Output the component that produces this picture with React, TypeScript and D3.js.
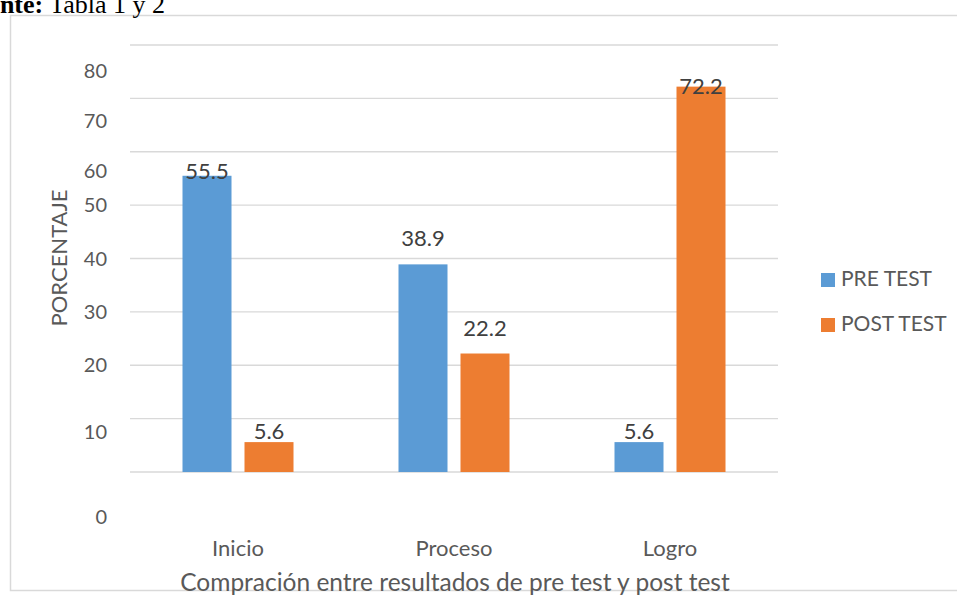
import React from "react";
import * as d3 from "d3";

const categories = ["Inicio", "Proceso", "Logro"];
const series = ["PRE TEST", "POST TEST"];
const preValues = [55.5, 38.9, 5.6];
const postValues = [5.6, 22.2, 72.2];
const gridValues = [0, 10, 20, 30, 40, 50, 60, 70, 80];
// tick labels as they appear (shifted in the reference image)
const tickLabels = ["0", "10", "20", "30", "40", "50", "60", "70", "80"];
const tickLabelPos = [-8.4, 7.5, 20, 30, 40, 50, 56.3, 65.8, 75.2];
const colors = ["#5B9BD5", "#ED7D31"];
// label baseline offsets relative to bar top (px), as placed in the reference
const preLabelOffset = [3, -18, -3];
const postLabelOffset = [-3, -18, 7];

const W = 957, H = 600;
const FONT = "Lato, 'Open Sans', sans-serif";

export default function App() {
  const x0 = d3.scaleBand().domain(categories).range([130, 778]);
  const y = d3.scaleLinear().domain([0, 80]).range([472, 45]);
  const bw = 49, gap = 13;
  const vals = [preValues, postValues];
  const offs = [preLabelOffset, postLabelOffset];
  return (
    <svg width={W} height={H} style={{ position: "absolute", left: 0, top: 0, background: "#fff" }}>
      <rect x={10.5} y={15.5} width={960} height={575} fill="none" stroke="#d9d9d9" strokeWidth={1.5} />
      <text x={-42} y={13} fontFamily="'Liberation Serif', serif" fontSize={26} fill="#000">
        <tspan fontWeight="bold">Fuente:</tspan> Tabla 1 y 2
      </text>
      {gridValues.map((v) => (
        <line key={v} x1={130} x2={778} y1={y(v)} y2={y(v)} stroke="#d9d9d9" strokeWidth={1.3} />
      ))}
      {tickLabels.map((t, i) => (
        <text key={t} x={107} y={y(tickLabelPos[i])} dy="0.35em" textAnchor="end" fontFamily={FONT} fontSize={20} fill="#595959">{t}</text>
      ))}
      <text transform="translate(59,258) rotate(-90)" textAnchor="middle" dy="0.35em" fontFamily={FONT} fontSize={22} fill="#595959">PORCENTAJE</text>
      {categories.map((c, ci) => {
        const cx = x0(c)! + x0.bandwidth() / 2;
        return (
          <g key={c}>
            {vals.map((sv, si) => {
              const bx = si === 0 ? cx - gap / 2 - bw : cx + gap / 2;
              const v = sv[ci];
              return (
                <g key={si}>
                  <rect x={bx} y={y(v)} width={bw} height={y(0) - y(v)} fill={colors[si]} />
                  <text x={bx + bw / 2} y={y(v) + offs[si][ci]} textAnchor="middle" fontFamily={FONT} fontSize={22} fill="#404040">{v.toFixed(1)}</text>
                </g>
              );
            })}
            <text x={cx} y={548} dy="0.35em" textAnchor="middle" fontFamily={FONT} fontSize={22} fill="#595959">{c}</text>
          </g>
        );
      })}
      <text x={455} y={582} dy="0.35em" textAnchor="middle" fontFamily={FONT} fontSize={24.5} fill="#595959">Compración entre resultados de pre test y post test</text>
      {series.map((s, i) => (
        <g key={s}>
          <rect x={821} y={273 + i * 45} width={14} height={14} fill={colors[i]} />
          <text x={841} y={286 + i * 45} fontFamily={FONT} fontSize={21} fill="#595959">{s}</text>
        </g>
      ))}
    </svg>
  );
}
